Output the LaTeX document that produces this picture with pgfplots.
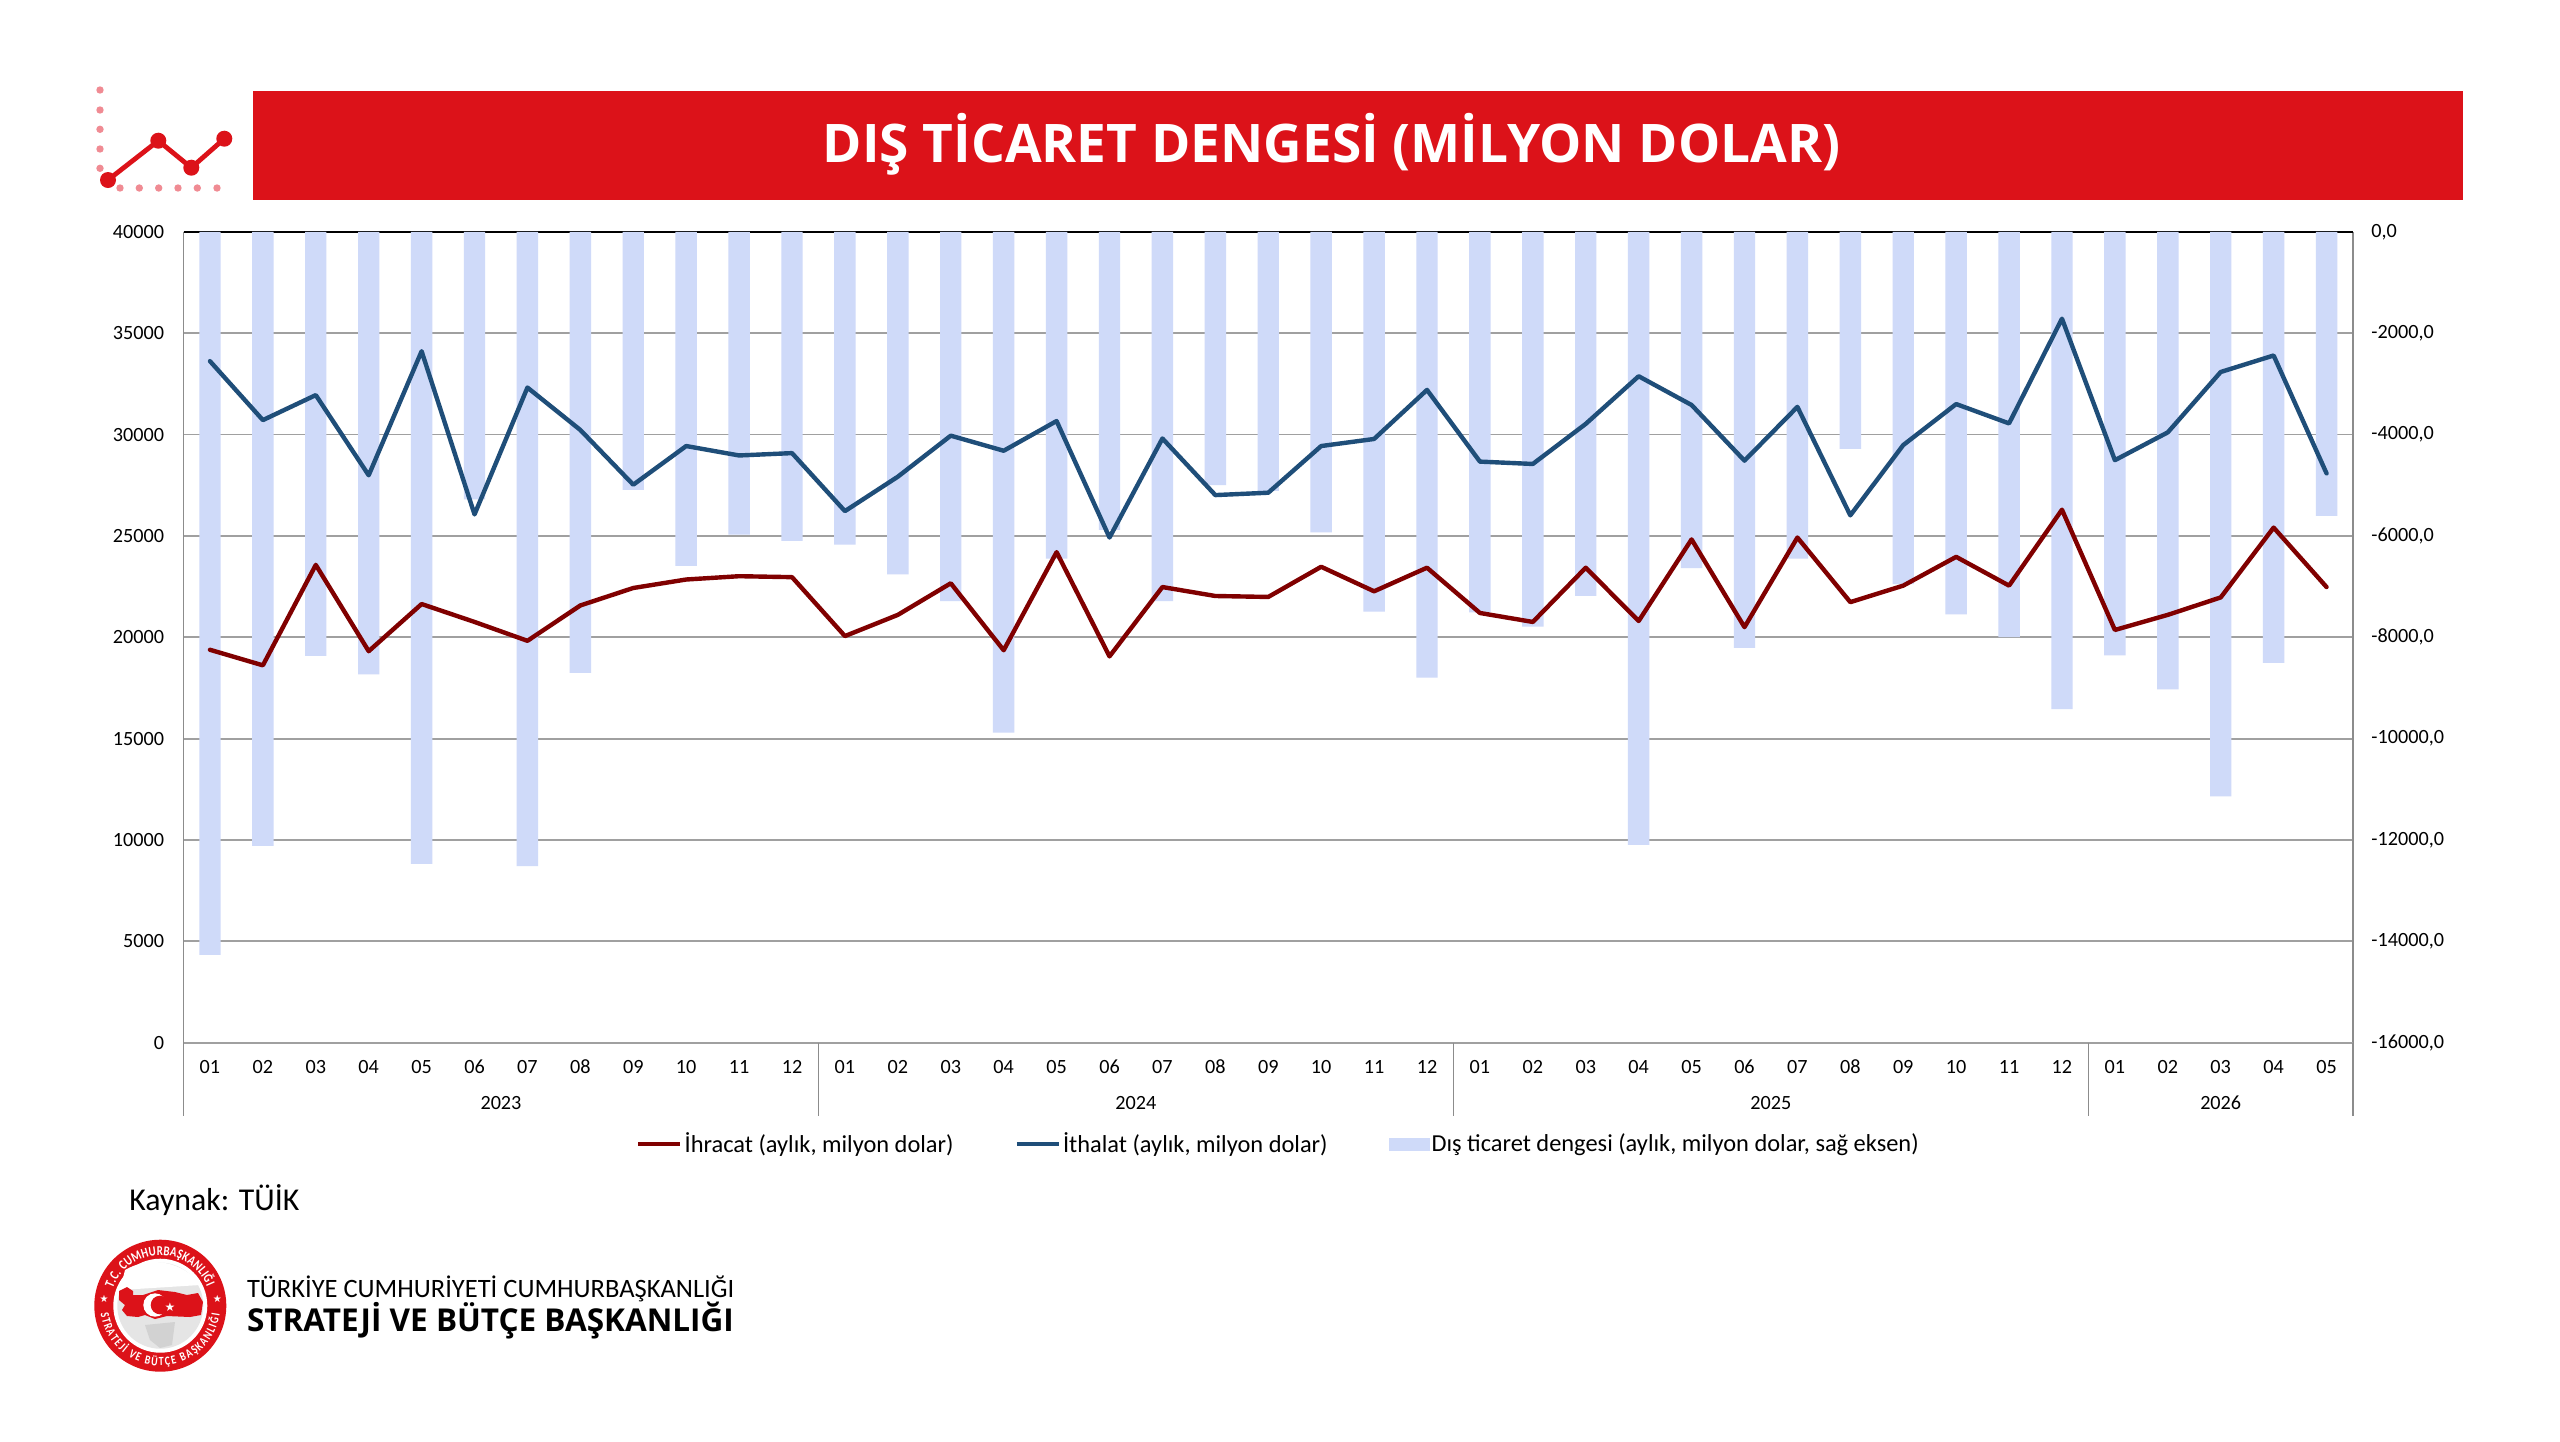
\documentclass[border=0pt]{standalone}
\usepackage{fontspec}
\usepackage{pgfplots}
\usepackage{pgfplotstable}
\pgfplotsset{compat=1.18}
\usetikzlibrary{decorations.text}
\setmainfont{Carlito}
\newfontfamily\titlefont{Open Sans}
\newfontfamily\logofont{Carlito}
\newfontfamily\ringfont[FakeStretch=0.8]{Carlito}
\newfontfamily\symfont{DejaVu Sans}

\definecolor{banner}{HTML}{DC1219}
\definecolor{palered}{HTML}{F08B93}
\definecolor{barblue}{HTML}{CFDAF9}
\definecolor{ihracatc}{HTML}{800000}
\definecolor{ithalatc}{HTML}{1F4E79}
\definecolor{gridc}{HTML}{A0A0A0}
\definecolor{axisc}{HTML}{8C8C8C}

% idx ihracat ithalat denge (milyon dolar)
\pgfplotstableread{
idx ihracat ithalat denge
0  19383 33624 -14268
1  18615 30715 -12118
2  23571 31949 -8367
3  19313 27993 -8730
4  21640 34113 -12471
5  20756 26061 -5277
6  19825 32321 -12518
7  21570 30227 -8702
8  22431 27527 -5091
9  22850 29435 -6589
10 23013 28970 -5975
11 22966 29086 -6096
12 20058 26224 -6171
13 21105 27923 -6757
14 22664 29947 -7287
15 19360 29203 -9884
16 24200 30669 -6450
17 19057 24921 -5882
18 22478 29808 -7287
19 22036 27015 -4998
20 21989 27132 -5110
21 23478 29435 -5929
22 22268 29784 -7492
23 23432 32205 -8795
24 21198 28667 -7511
25 20756 28551 -7790
26 23432 30529 -7185
27 20802 32879 -12099
28 24828 31460 -6636
29 20500 28714 -8209
30 24921 31367 -6450
31 21733 26015 -4281
32 22548 29482 -6952
33 23967 31506 -7548
34 22548 30552 -7995
35 26294 35718 -9419
36 20360 28737 -8358
37 21105 30110 -9028
38 21966 33089 -11140
39 25410 33903 -8507
40 22478 28086 -5603
}\ticaret

\begin{document}
\begin{tikzpicture}
% sayfa: 1 px = 0.5 pt, y asagi
\begin{scope}[x=0.5pt,y=-0.5pt]
  \path[use as bounding box,fill=white] (0,0) rectangle (2560,1441);
  \fill[banner] (253,90.7) rectangle (2462.5,200.3);
  \node[text=white,inner sep=0pt] at (1331.5,144.5)
    {\titlefont\bfseries\fontsize{26.6pt}{30pt}\selectfont DIŞ TİCARET DENGESİ (MİLYON DOLAR)};
  % ikon
  \foreach \y in {90,110,129.3,149,168.3} \fill[palered] (100,\y) circle (3.7);
  \foreach \x in {120,139.3,158.7,178,197.3,217} \fill[palered] (\x,188) circle (3.7);
  \draw[banner,line width=2.4pt] (108,180) -- (158.3,140.7) -- (191.3,167.7) -- (224.3,138.7);
  \foreach \x/\y in {108/180,158.3/140.7,191.3/167.7,224.3/138.7} \fill[banner] (\x,\y) circle (8);
  % kaynak
  \node[anchor=base west,inner sep=0pt] at (129,1210)
    {\fontsize{15.9pt}{18pt}\selectfont Kaynak: TÜİK};
  % logo
  \fill[banner] (160.3,1305.7) circle (66);
  \fill[white] (160.3,1305.7) circle (47);
  \fill[gray!20] (160.3,1305.7) circle (43);
  \fill[white] (125,1270) .. controls (150,1255) and (185,1262) .. (200,1285) -- (120,1290) -- cycle;
  \fill[gray!35] (145,1325) -- (175,1322) -- (172,1345) -- (160,1348) -- (150,1340) -- cycle;
  \fill[banner] (119,1291) -- (127,1287) -- (133,1291) -- (133,1295) -- (143,1295) -- (158,1290)
    -- (175,1292) -- (187,1295) -- (198,1293) -- (203,1302) -- (201,1315) -- (190,1317)
    -- (167,1316) -- (155,1319) -- (145,1315) -- (138,1317) -- (127,1316) -- (122,1310)
    -- (125,1305) -- (119,1300) -- cycle;
  \fill[white] (155,1305) circle (11.7);
  \fill[banner] (160,1305) circle (9.3);
  \node[text=white,inner sep=0pt] at (170,1307) {\symfont\fontsize{6pt}{6pt}\selectfont ★};
  \node[text=white,inner sep=0pt] at (104,1299) {\symfont\fontsize{5pt}{5pt}\selectfont ★};
  \node[text=white,inner sep=0pt] at (217.3,1299) {\symfont\fontsize{5pt}{5pt}\selectfont ★};
  % halka yazilari (burada y yukari)
  \begin{scope}[shift={(160.3,1305.7)},x=0.5pt,y=0.5pt]
    \path[decorate,decoration={text along path,text align={fit to path},text color=white,
      text={|\ringfont\bfseries\fontsize{6.8pt}{8pt}\selectfont|T.C. CUMHURBAŞKANLIĞI}}]
      (160:50.5) arc[start angle=160,end angle=22,radius=50.5];
    \path[decorate,decoration={text along path,text align={fit to path},text color=white,
      text={|\ringfont\bfseries\fontsize{6.2pt}{8pt}\selectfont|STRATEJİ VE BÜTÇE BAŞKANLIĞI}}]
      (187:60) arc[start angle=187,end angle=352,radius=60];
  \end{scope}
  % kurum adi
  \node[anchor=base west,inner sep=0pt] at (246.6,1297)
    {\logofont\fontsize{13.25pt}{15pt}\selectfont TÜRKİYE CUMHURİYETİ CUMHURBAŞKANLIĞI};
  \node[anchor=base west,inner sep=0pt] at (246.6,1331)
    {\titlefont\bfseries\fontsize{15.75pt}{18pt}\selectfont STRATEJİ VE BÜTÇE BAŞKANLIĞI};
\end{scope}

% sag eksen: dis ticaret dengesi (cubuklar) ve yatay izgara
\begin{axis}[
  at={(91.75pt,-521.3pt)}, anchor=south west,
  scale only axis, width=1084.75pt, height=405.35pt,
  xmin=-0.5, xmax=40.5, ymin=-16000, ymax=0,
  axis x line=none, axis y line*=right,
  xtick=\empty, ytick={-16000,-14000,...,0},
  ymajorgrids, grid style={gridc,line width=0.9pt},
  y axis line style={axisc,line width=0.7pt},
  major tick length=0pt,
  tick label style={font=\fontsize{10.1pt}{11pt}\selectfont},
  yticklabel style={inner sep=0pt,xshift=9pt,
    /pgf/number format/.cd,assume math mode=true,fixed,fixed zerofill,precision=1,use comma,1000 sep={}},
  scaled y ticks=false,
  clip=false,
]
\draw[black,line width=0.9pt] (axis cs:-0.5,0) -- (axis cs:40.5,0);
\addplot[ybar,bar width=10.7pt,bar shift=0pt,fill=barblue,draw=none] table[x=idx,y=denge] {\ticaret};
\end{axis}

% sol eksen: ihracat, ithalat
\begin{axis}[
  at={(91.75pt,-521.3pt)}, anchor=south west,
  scale only axis, width=1084.75pt, height=405.35pt,
  xmin=-0.5, xmax=40.5, ymin=0, ymax=40000,
  axis x line*=bottom, axis y line*=left,
  x axis line style={gridc,line width=1.1pt},
  y axis line style={axisc,line width=0.7pt},
  xtick={0,...,40},
  xticklabels={01,02,03,04,05,06,07,08,09,10,11,12,01,02,03,04,05,06,07,08,09,10,11,12,01,02,03,04,05,06,07,08,09,10,11,12,01,02,03,04,05},
  extra x ticks={5.5,17.5,29.5,38},
  extra x tick labels={2023,2024,2025,2026},
  extra x tick style={xticklabel style={yshift=-18pt}},
  ytick={0,5000,...,40000},
  major tick length=0pt,
  tick label style={font=\fontsize{10.1pt}{11pt}\selectfont},
  xticklabel style={anchor=center,inner sep=0pt,yshift=-12pt},
  yticklabel style={inner sep=0pt,xshift=-9.5pt,
    /pgf/number format/.cd,assume math mode=true,fixed,1000 sep={}},
  scaled y ticks=false,
  clip=false,
  legend columns=3,
  legend cell align=left,
  legend style={at={(0.5047,-0.125)},anchor=center,draw=none,fill=none,inner sep=0pt,
    font=\fontsize{12.2pt}{14pt}\selectfont,
    nodes={inner sep=1pt},
    /tikz/every even column/.append style={column sep=29.5pt}},
  legend image code/.code={\draw[#1,line cap=butt] (0pt,0pt) -- (21pt,0pt);},
]
\pgfplotsinvokeforeach{-0.5,11.5,23.5,35.5,40.5}{
  \draw[axisc,line width=0.7pt] (axis cs:#1,0) -- ([yshift=-36.65pt]axis cs:#1,0);
}
\addplot[ihracatc,line width=2.2pt,line join=round,line cap=round] table[x=idx,y=ihracat] {\ticaret};
\addlegendentry{İhracat (aylık, milyon dolar)}
\addplot[ithalatc,line width=2.2pt,line join=round,line cap=round] table[x=idx,y=ithalat] {\ticaret};
\addlegendentry{İthalat (aylık, milyon dolar)}
\addlegendimage{legend image code/.code={\fill[barblue] (0pt,-3pt) rectangle (20pt,3pt);}}
\addlegendentry{Dış ticaret dengesi (aylık, milyon dolar, sağ eksen)}
\end{axis}
\end{tikzpicture}
\end{document}
